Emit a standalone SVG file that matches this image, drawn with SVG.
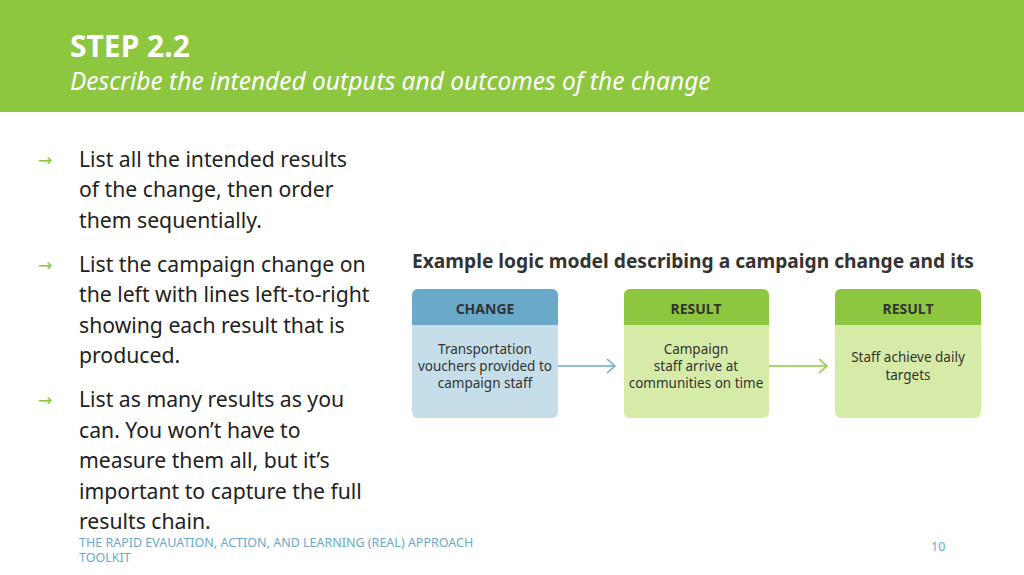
<svg xmlns="http://www.w3.org/2000/svg" width="1024" height="575" viewBox="0 0 1024 575">
<style>
.b{font-family:"Noto Sans","Open Sans",sans-serif;font-size:21.2px;fill:#222}
.ar{font-family:"DejaVu Sans",sans-serif;font-size:17px;fill:#8dc63f}
.h{font-family:"Noto Sans",sans-serif;font-size:14px;font-weight:bold;fill:#333;text-anchor:middle}
.t{font-family:"Noto Sans",sans-serif;font-size:13.5px;fill:#333;text-anchor:middle}
.f{font-family:"Noto Sans",sans-serif;font-size:12.5px;fill:#6aaac8}
</style>
<defs>
<marker id="mb" markerWidth="12" markerHeight="16" refX="10" refY="8" orient="auto" markerUnits="userSpaceOnUse"><path d="M2,1 L10,8 L2,15" fill="none" stroke="#6aaac8" stroke-width="1.5"/></marker>
<marker id="mg" markerWidth="12" markerHeight="16" refX="10" refY="8" orient="auto" markerUnits="userSpaceOnUse"><path d="M2,1 L10,8 L2,15" fill="none" stroke="#8dc63f" stroke-width="1.5"/></marker>
</defs>
<rect width="1024" height="575" fill="#fff"/>
<rect width="1024" height="112" fill="#8dc63f"/>
<text x="70" y="57" font-family="Noto Sans,sans-serif" font-size="30" font-weight="bold" fill="#fff">STEP 2.2</text>
<text x="70" y="90" font-family="Noto Sans,sans-serif" font-size="24.5" font-style="italic" fill="#fff">Describe the intended outputs and outcomes of the change</text>
<text class="ar" x="38" y="166">→</text>
<text class="b" x="79" y="167">List all the intended results</text>
<text class="b" x="79" y="197">of the change, then order</text>
<text class="b" x="79" y="228">them sequentially.</text>
<text class="ar" x="38" y="271">→</text>
<text class="b" x="79" y="272">List the campaign change on</text>
<text class="b" x="79" y="302">the left with lines left-to-right</text>
<text class="b" x="79" y="333">showing each result that is</text>
<text class="b" x="79" y="363">produced.</text>
<text class="ar" x="38" y="406">→</text>
<text class="b" x="79" y="407">List as many results as you</text>
<text class="b" x="79" y="438">can. You won’t have to</text>
<text class="b" x="79" y="468">measure them all, but it’s</text>
<text class="b" x="79" y="499">important to capture the full</text>
<text class="b" x="79" y="529">results chain.</text>
<text x="412" y="268" font-family="Noto Sans,sans-serif" font-size="19.2" font-weight="bold" fill="#333">Example logic model describing a campaign change and its</text>
<g id="connectors">
<line x1="558" y1="366" x2="615" y2="366" stroke="#6aaac8" stroke-width="1.5" marker-end="url(#mb)"/>
<line x1="769" y1="366" x2="827" y2="366" stroke="#8dc63f" stroke-width="1.5" marker-end="url(#mg)"/>
</g>
<g id="change">
<rect x="412" y="289" width="146" height="129" rx="6" fill="#c5deea"/>
<path d="M412,325 V295 a6,6 0 0 1 6,-6 H552 a6,6 0 0 1 6,6 V325 Z" fill="#6aaac8"/>
<text class="h" x="485" y="314">CHANGE</text>
<text class="t" x="485" y="354">Transportation</text>
<text class="t" x="485" y="371">vouchers provided to</text>
<text class="t" x="485" y="388">campaign staff</text>
</g>
<g id="result1">
<rect x="624" y="289" width="145" height="129" rx="6" fill="#d6eba8"/>
<path d="M624,325 V295 a6,6 0 0 1 6,-6 H763 a6,6 0 0 1 6,6 V325 Z" fill="#8dc63f"/>
<text class="h" x="696" y="314">RESULT</text>
<text class="t" x="696" y="354">Campaign</text>
<text class="t" x="696" y="371">staff arrive at</text>
<text class="t" x="696" y="388">communities on time</text>
</g>
<g id="result2">
<rect x="835" y="289" width="146" height="129" rx="6" fill="#d6eba8"/>
<path d="M835,325 V295 a6,6 0 0 1 6,-6 H975 a6,6 0 0 1 6,6 V325 Z" fill="#8dc63f"/>
<text class="h" x="908" y="314">RESULT</text>
<text class="t" x="908" y="362">Staff achieve daily</text>
<text class="t" x="908" y="380">targets</text>
</g>
<text class="f" x="79" y="547">THE RAPID EVAUATION, ACTION, AND LEARNING (REAL) APPROACH</text>
<text class="f" x="79" y="562">TOOLKIT</text>
<text class="f" x="931" y="551">10</text>
</svg>
